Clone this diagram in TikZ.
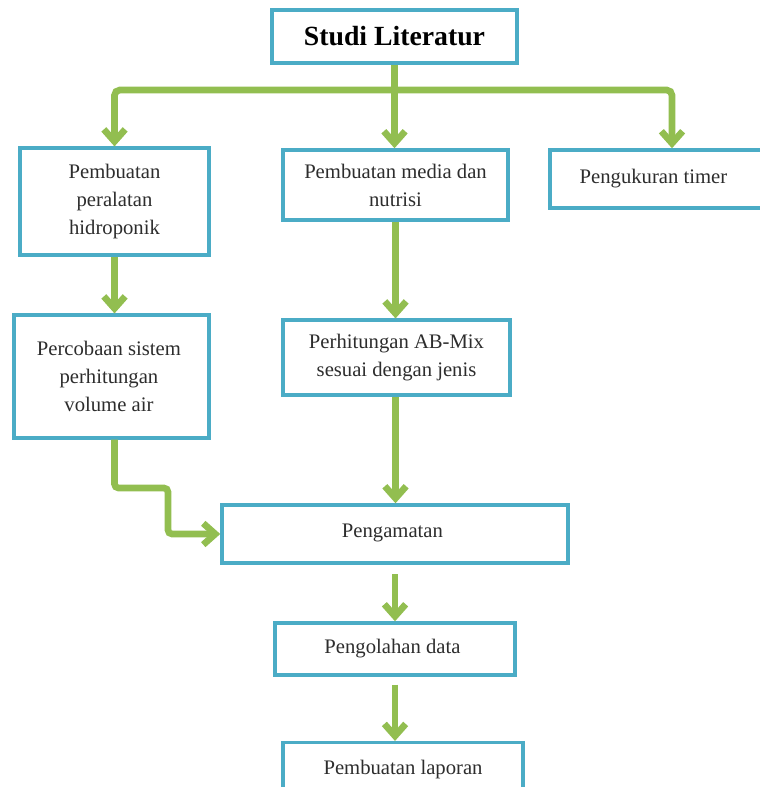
\documentclass[tikz,border=0pt]{standalone}
\usepackage{fontspec}
\setmainfont{Liberation Serif}
\usepackage{tikz}
\usetikzlibrary{positioning, arrows.meta, calc}
\definecolor{boxblue}{RGB}{75,172,198}
\definecolor{flowgreen}{RGB}{146,190,80}
\definecolor{txtgray}{RGB}{45,45,45}

\begin{document}
\begin{tikzpicture}[
  x=0.75pt, y=-0.75pt,
  font=\fontsize{15.5}{21}\selectfont, text=txtgray,
  stepbox/.style={draw=boxblue, line width=2.6pt, fill=white, align=center,
                  inner sep=4pt},
  flow/.style={draw=flowgreen, line width=5pt,
               -{Straight Barb[length=9pt, width=16pt]}},
  >=Stealth
]
\useasboundingbox (0,0) rectangle (759,787);

% Top
\node[stepbox, minimum width=184pt, minimum height=40pt, text=black,
      font=\fontsize{20.8}{24}\selectfont\bfseries] (studi) at (394.5,36.5) {Studi Literatur};

% Row 1
\node[stepbox, minimum width=142pt, minimum height=80pt] (alat) at (114.5,201.5) {
  Pembuatan\\peralatan\\hidroponik
};
\node[stepbox, minimum width=169pt, minimum height=52.5pt] (media) at (395.5,185) {
  Pembuatan media dan\\nutrisi
};
\node[stepbox, minimum width=159pt, minimum height=43.5pt] (timer) at (656,179) {
  \raisebox{4pt}{Pengukuran timer}
};

% Row 2
\node[stepbox, minimum width=146pt, minimum height=92pt] (coba) at (111.5,376.5) {
  \raisebox{7pt}{\parbox{128pt}{\centering Percobaan sistem\\perhitungan\\volume air}}
};
\node[stepbox, minimum width=170pt, minimum height=56pt] (abmix) at (396.5,357.5) {
  Perhitungan AB-Mix\\sesuai dengan jenis
};

% Lower chain
\node[stepbox, minimum width=259.5pt, minimum height=43.5pt] (amat) at (395,534) {
  \raisebox{5pt}{Pengamatan}
};
\node[stepbox, minimum width=180pt, minimum height=39pt] (olah) at (395,649) {
  \raisebox{3pt}{Pengolahan data}
};
\node[stepbox, minimum width=180pt, minimum height=41pt] (lapor) at (403,770) {Pembuatan laporan};

% Connectors
\coordinate (bus) at (studi.south |- 0,90);
\coordinate (knee) at (168,488);
\draw[flow] (studi.south) -- (studi.south |- media.north);
\draw[flow, rounded corners=4pt] (bus) -| (alat.north);
\draw[flow, rounded corners=4pt] (bus) -| ([xshift=12pt]timer.north);
\draw[flow] (alat.south) -- (alat.south |- coba.north);
\draw[flow, rounded corners=3pt] (coba.south -| alat.south) |- (knee) |- (amat.west);
\draw[flow] (media.south) -- (media.south |- abmix.north);
\draw[flow] (abmix.south -| media.south) -- (media.south |- amat.north);
\draw[flow, shorten <=7pt] (amat.south) -- (amat.south |- olah.north);
\draw[flow, shorten <=6pt] (olah.south) -- (olah.south |- lapor.north);

\end{tikzpicture}
\end{document}
